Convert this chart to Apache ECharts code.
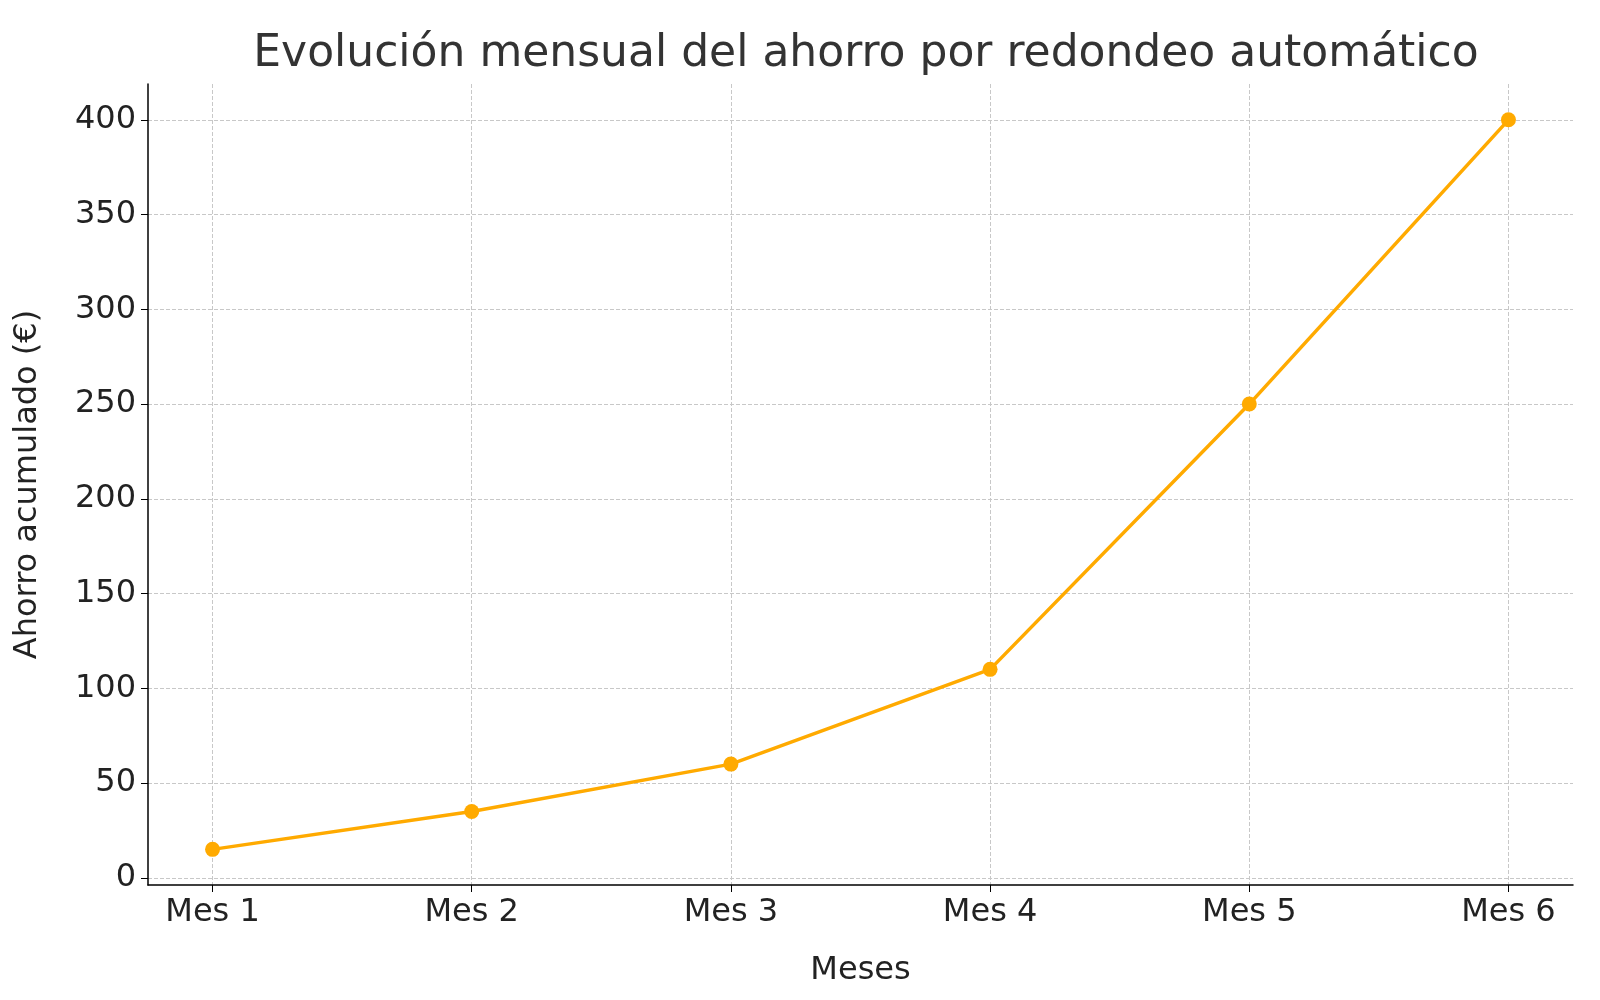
<!DOCTYPE html>
<html><head><meta charset="utf-8">
<script src="https://cdn.jsdelivr.net/npm/echarts@6/dist/echarts.min.js"></script>
<style>html,body{margin:0;background:#fff}#c{width:1600px;height:1000px}</style>
</head><body><div id="c"></div>
<script>
const categories = ['Mes 1','Mes 2','Mes 3','Mes 4','Mes 5','Mes 6'];
const ahorro = [15, 35, 60, 110, 250, 400];
const yTicks = [0,50,100,150,200,250,300,350,400];
const xPos = categories.map((c,i)=>i+1);
const font = 'DejaVu Sans';
const chart = echarts.init(document.getElementById('c'));
chart.setOption({
  animation:false,
  title:{text:'Evolución mensual del ahorro por redondeo automático',left:861,textAlign:'center',top:28,
    textStyle:{fontFamily:font,fontSize:44,fontWeight:'normal',color:'#333'}},
  grid:{left:148,right:27,top:84,bottom:115},
  xAxis:{type:'value',min:0.751,max:6.249,name:'Meses',nameLocation:'middle',nameGap:70,
    nameTextStyle:{fontFamily:font,fontSize:32,color:'#222'},
    axisLine:{onZero:false,lineStyle:{color:'#000',width:1.5}},
    axisTick:{customValues:xPos,length:7,lineStyle:{color:'#000'}},
    axisLabel:{customValues:xPos,formatter:v=>categories[Math.round(v)-1],fontFamily:font,fontSize:32,color:'#222',margin:12},
    splitLine:{show:true,lineStyle:{type:'dashed',color:'#c8c8c8'}}},
  yAxis:{type:'value',min:-3.8,max:418.9,name:'Ahorro acumulado (€)',nameLocation:'middle',nameGap:104,
    nameTextStyle:{fontFamily:font,fontSize:32,color:'#222'},
    axisLine:{show:true,onZero:false,lineStyle:{color:'#000',width:1.5}},
    axisTick:{show:true,customValues:yTicks,length:7,lineStyle:{color:'#000'}},
    axisLabel:{customValues:yTicks,fontFamily:font,fontSize:32,color:'#222',margin:12},
    splitLine:{show:true,lineStyle:{type:'dashed',color:'#c8c8c8'}}},
  series:[{type:'line',data:xPos.map((x,i)=>[x,ahorro[i]]),color:'#FFAA00',
    lineStyle:{width:3.5},symbol:'circle',symbolSize:15,itemStyle:{color:'#FFAA00'}}]
});
</script></body></html>
